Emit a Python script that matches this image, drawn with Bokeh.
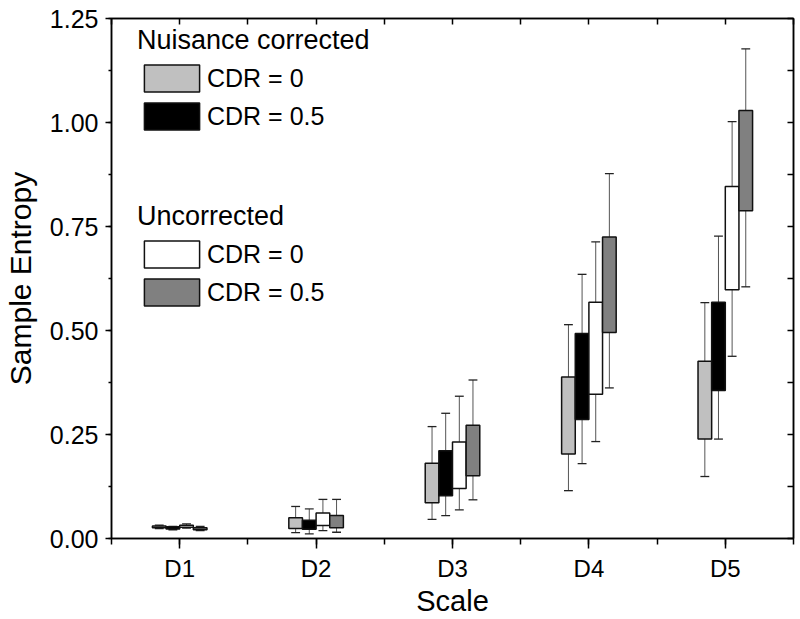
import numpy as np
from bokeh.plotting import figure
from bokeh.models import (LinearAxis, FixedTicker, Legend, LegendItem, Range1d, NumeralTickFormatter)
from bokeh.embed import file_html
from bokeh.resources import INLINE

# ---- data ----
scales = ["D1", "D2", "D3", "D4", "D5"]

nc0_low  = [0.024, 0.014, 0.046, 0.115, 0.149]
nc0_q1   = [0.026, 0.024, 0.086, 0.203, 0.239]
nc0_q3   = [0.030, 0.050, 0.181, 0.388, 0.426]
nc0_high = [0.032, 0.077, 0.269, 0.514, 0.567]

nc05_low  = [0.021, 0.011, 0.055, 0.180, 0.239]
nc05_q1   = [0.023, 0.022, 0.103, 0.286, 0.356]
nc05_q3   = [0.028, 0.044, 0.211, 0.493, 0.568]
nc05_high = [0.029, 0.071, 0.301, 0.635, 0.727]

un0_low  = [0.025, 0.019, 0.069, 0.233, 0.438]
un0_q1   = [0.027, 0.031, 0.120, 0.347, 0.598]
un0_q3   = [0.032, 0.061, 0.232, 0.568, 0.846]
un0_high = [0.035, 0.094, 0.342, 0.713, 1.002]

un05_low  = [0.019, 0.015, 0.093, 0.362, 0.605]
un05_q1   = [0.021, 0.026, 0.151, 0.495, 0.788]
un05_q3   = [0.026, 0.055, 0.272, 0.725, 1.029]
un05_high = [0.029, 0.094, 0.381, 0.877, 1.177]

y_ticks = [0.0, 0.25, 0.5, 0.75, 1.0, 1.25]

FONT = "Liberation Sans"

p = figure(width=800, height=619, x_range=Range1d(0.5, 5.5), y_range=Range1d(0, 1.25),
           output_backend="svg", toolbar_location=None,
           min_border_left=110, min_border_top=18, min_border_right=7, min_border_bottom=81)
p.xgrid.visible = False
p.ygrid.visible = False
p.outline_line_color = "black"
p.outline_line_width = 1.5
p.background_fill_color = "white"
p.border_fill_color = "white"

xpos = np.arange(1, len(scales) + 1, dtype=float)
box_w = 0.1
cap_w = 0.065

series = [
    ("nc0", nc0_low, nc0_q1, nc0_q3, nc0_high, "#c0c0c0", -0.15),
    ("nc05", nc05_low, nc05_q1, nc05_q3, nc05_high, "#000000", -0.05),
    ("un0", un0_low, un0_q1, un0_q3, un0_high, "#ffffff", 0.05),
    ("un05", un05_low, un05_q1, un05_q3, un05_high, "#808080", 0.15),
]

renderers = {}
for name, lo, q1, q3, hi, col, off in series:
    xs = xpos + off
    lo, q1, q3, hi = map(np.array, (lo, q1, q3, hi))
    p.segment(x0=xs, y0=q3, x1=xs, y1=hi, line_color="#555555", line_width=1)
    p.segment(x0=xs, y0=lo, x1=xs, y1=q1, line_color="#555555", line_width=1)
    p.segment(x0=xs - cap_w / 2, y0=hi, x1=xs + cap_w / 2, y1=hi, line_color="#222222", line_width=1.3)
    p.segment(x0=xs - cap_w / 2, y0=lo, x1=xs + cap_w / 2, y1=lo, line_color="#222222", line_width=1.3)
    r = p.quad(left=xs - box_w / 2, right=xs + box_w / 2, bottom=q1, top=q3,
               fill_color=col, line_color="#111111", line_width=1.5)
    renderers[name] = r

# ---- axes ----
xt = FixedTicker(ticks=list(xpos), minor_ticks=list(np.arange(0.5, 5.51, 0.5)))
yt = FixedTicker(ticks=y_ticks, minor_ticks=list(np.arange(0, 1.2501, 0.125)))

p.xaxis.ticker = xt
overrides = {}
for x, s in zip(xpos, scales):
    overrides[int(x)] = s
p.xaxis.major_label_overrides = overrides
p.yaxis.ticker = yt
p.yaxis.formatter = NumeralTickFormatter(format="0.00")

for ax in (p.xaxis[0], p.yaxis[0]):
    ax.axis_line_color = "black"
    ax.axis_line_width = 1.5
    ax.major_tick_line_width = 1.5
    ax.minor_tick_line_width = 1.5
    ax.major_tick_in = 0
    ax.minor_tick_in = 0
    ax.major_label_text_font = FONT
    ax.major_label_text_color = "black"
    ax.axis_label_text_font = FONT
    ax.axis_label_text_font_style = "normal"
    ax.axis_label_text_color = "black"

p.xaxis.major_label_text_font_size = "24px"
p.xaxis.axis_label_text_font_size = "29px"
p.xaxis.major_tick_out = 10
p.xaxis.minor_tick_out = 6
p.xaxis.major_label_standoff = 6
p.xaxis.axis_label = "Scale"
p.xaxis.axis_label_standoff = 0

p.yaxis.major_label_text_font_size = "25px"
p.yaxis.axis_label_text_font_size = "30px"
p.yaxis.major_tick_out = 6
p.yaxis.minor_tick_out = 3
p.yaxis.major_label_standoff = 7
p.yaxis.axis_label = "Sample Entropy"
p.yaxis.axis_label_standoff = 10

top_ticks = list(np.arange(0.5, 5.51, 0.5))
right_ticks = list(np.arange(0, 1.2501, 0.125))
top_ax = LinearAxis(ticker=FixedTicker(ticks=top_ticks, minor_ticks=[]),
                    major_label_overrides={float(t): "" for t in top_ticks},
                    major_label_text_font_size="0px", major_label_standoff=0,
                    major_tick_in=6, major_tick_out=0, axis_line_width=1.5,
                    major_tick_line_width=1.5)
right_ax = LinearAxis(ticker=FixedTicker(ticks=right_ticks, minor_ticks=[]),
                      major_label_overrides={float(t): "" for t in right_ticks},
                      major_label_text_font_size="0px", major_label_standoff=0,
                      major_tick_in=6, major_tick_out=0, axis_line_width=1.5,
                      major_tick_line_width=1.5)
p.add_layout(top_ax, "above")
p.add_layout(right_ax, "right")

# ---- legends ----
def make_legend(title, items, loc):
    lg = Legend(items=items, location=loc, title=title,
                title_text_font=FONT, title_text_font_size="27px", title_text_font_style="normal",
                title_text_color="black", title_standoff=5,
                label_text_font=FONT, label_text_font_size="25px", label_text_color="black",
                glyph_width=69, glyph_height=34, label_height=34, label_standoff=1,
                spacing=4, padding=0, margin=0,
                background_fill_alpha=0, border_line_alpha=0)
    return lg

lg1 = make_legend("Nuisance corrected",
                  [LegendItem(label="CDR = 0", renderers=[renderers["nc0"]]),
                   LegendItem(label="CDR = 0.5", renderers=[renderers["nc05"]])],
                  (26, 405))
lg2 = make_legend("Uncorrected",
                  [LegendItem(label="CDR = 0", renderers=[renderers["un0"]]),
                   LegendItem(label="CDR = 0.5", renderers=[renderers["un05"]])],
                  (26, 229))
p.add_layout(lg1, "center")
p.add_layout(lg2, "center")

open("out.html", "w").write(file_html(p, INLINE))
